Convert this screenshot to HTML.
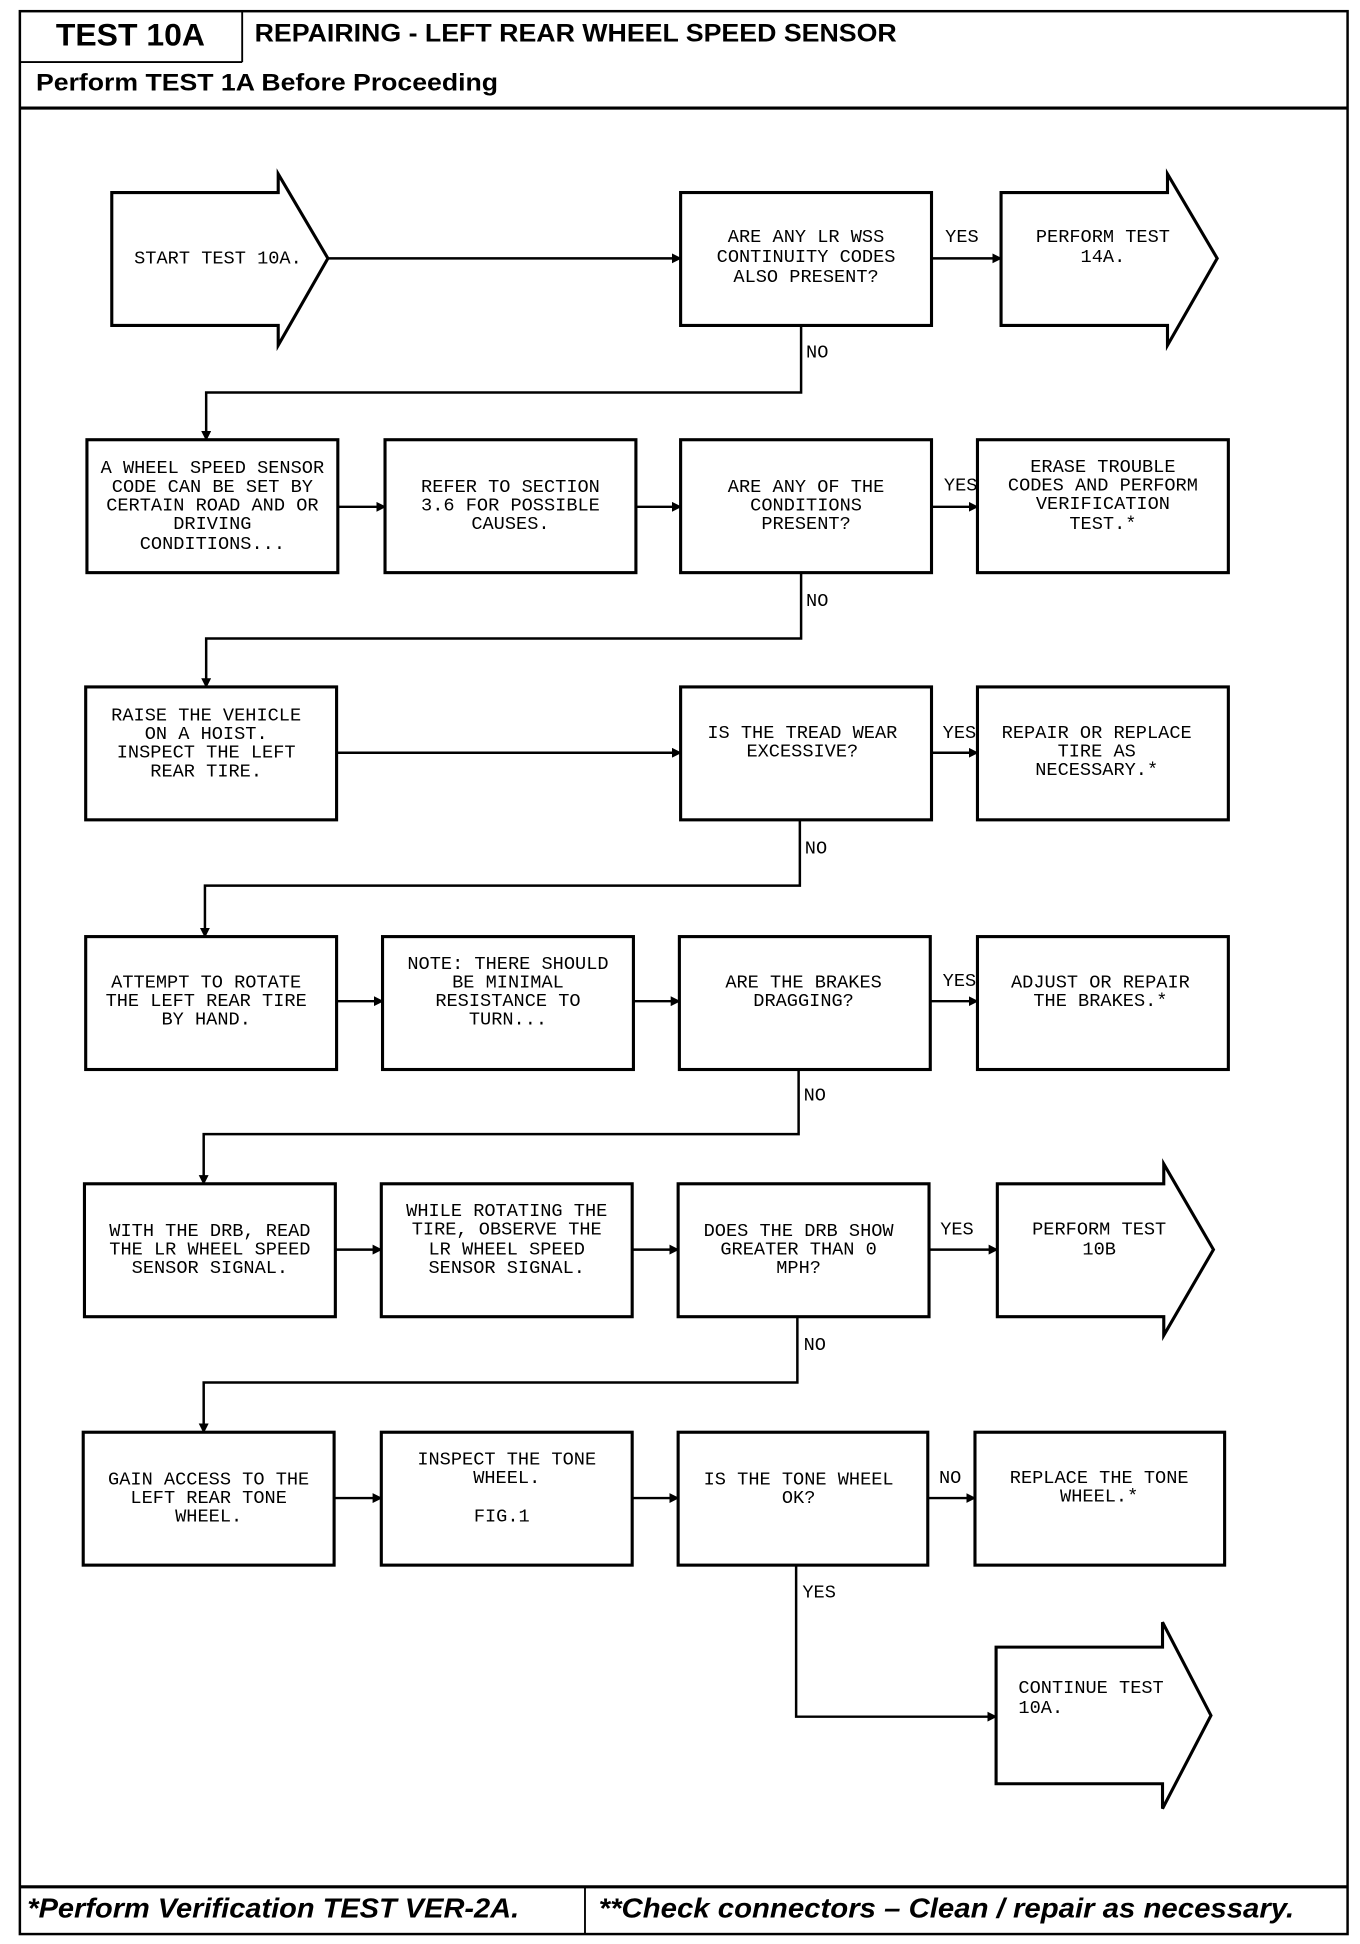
<!DOCTYPE html>
<html><head><meta charset="utf-8"><style>
html,body{margin:0;padding:0;background:#fff;width:1360px;height:1944px;overflow:hidden}
svg{display:block}
.t{font-family:"Liberation Mono",monospace;font-size:15px;fill:#000;text-anchor:middle;dominant-baseline:middle}
.l{font-family:"Liberation Mono",monospace;font-size:15px;fill:#000;dominant-baseline:middle}
.b{fill:#fff;stroke:#000;stroke-width:2.5}
.c{fill:none;stroke:#000;stroke-width:2}
</style></head><body>
<svg width="1360" height="1944" viewBox="0 0 1095 1565" preserveAspectRatio="none" xmlns="http://www.w3.org/2000/svg">
<defs><marker id="a" markerWidth="8" markerHeight="8" refX="7" refY="4" orient="auto" markerUnits="userSpaceOnUse"><path d="M0,0 L8,4 L0,8z" fill="#000"/></marker></defs>
<!-- frame -->
<rect x="16" y="9" width="1069" height="1548" fill="none" stroke="#000" stroke-width="2"/>
<line x1="195" y1="9" x2="195" y2="50" stroke="#000" stroke-width="1.5"/>
<line x1="16" y1="50" x2="195" y2="50" stroke="#000" stroke-width="1.5"/>
<line x1="16" y1="87" x2="1085" y2="87" stroke="#000" stroke-width="2.5"/>
<line x1="16" y1="1519" x2="1085" y2="1519" stroke="#000" stroke-width="2.5"/>
<line x1="471" y1="1519" x2="471" y2="1557" stroke="#000" stroke-width="1.5"/>
<text x="45" y="30" font-family="Liberation Sans,sans-serif" font-weight="bold" font-size="25" dominant-baseline="middle" textLength="120" lengthAdjust="spacingAndGlyphs">TEST 10A</text>
<text x="205" y="28" font-family="Liberation Sans,sans-serif" font-weight="bold" font-size="20" dominant-baseline="middle" textLength="517" lengthAdjust="spacingAndGlyphs">REPAIRING - LEFT REAR WHEEL SPEED SENSOR</text>
<text x="29" y="68" font-family="Liberation Sans,sans-serif" font-weight="bold" font-size="19" dominant-baseline="middle" textLength="372" lengthAdjust="spacingAndGlyphs">Perform TEST 1A Before Proceeding</text>
<text x="22" y="1538" font-family="Liberation Sans,sans-serif" font-weight="bold" font-style="italic" font-size="22" dominant-baseline="middle" textLength="396" lengthAdjust="spacingAndGlyphs">*Perform Verification TEST VER-2A.</text>
<text x="482" y="1538" font-family="Liberation Sans,sans-serif" font-weight="bold" font-style="italic" font-size="22" dominant-baseline="middle" textLength="560" lengthAdjust="spacingAndGlyphs">**Check connectors – Clean / repair as necessary.</text>

<!-- row1 -->
<path class="b" d="M90,155 H224 V140 L264,208 L224,278 V262 H90 Z"/>
<text class="l" x="108" y="208">START TEST 10A.</text>
<line class="c" x1="264" y1="208" x2="548" y2="208" marker-end="url(#a)"/>
<rect class="b" x="548" y="155" width="202" height="107"/>
<text class="t" x="649" y="191">ARE ANY LR WSS</text><text class="t" x="649" y="207">CONTINUITY CODES</text><text class="t" x="649" y="223">ALSO PRESENT?</text>
<line class="c" x1="750" y1="208" x2="806" y2="208" marker-end="url(#a)"/>
<text class="l" x="761" y="191">YES</text>
<path class="b" d="M806,155 H940 V140 L980,208 L940,278 V262 H806 Z"/>
<text class="t" x="888" y="191">PERFORM TEST</text><text class="t" x="888" y="207">14A.</text>
<polyline class="c" points="645,262 645,316 166,316 166,354" marker-end="url(#a)"/>
<text class="l" x="649" y="284">NO</text>

<!-- row2 -->
<rect class="b" x="70" y="354" width="202" height="107"/>
<text class="t" x="171" y="377">A WHEEL SPEED SENSOR</text><text class="t" x="171" y="392">CODE CAN BE SET BY</text><text class="t" x="171" y="407">CERTAIN ROAD AND OR</text><text class="t" x="171" y="422">DRIVING</text><text class="t" x="171" y="438">CONDITIONS...</text>
<line class="c" x1="272" y1="408" x2="310" y2="408" marker-end="url(#a)"/>
<rect class="b" x="310" y="354" width="202" height="107"/>
<text class="t" x="411" y="392">REFER TO SECTION</text><text class="t" x="411" y="407">3.6 FOR POSSIBLE</text><text class="t" x="411" y="422">CAUSES.</text>
<line class="c" x1="512" y1="408" x2="548" y2="408" marker-end="url(#a)"/>
<rect class="b" x="548" y="354" width="202" height="107"/>
<text class="t" x="649" y="392">ARE ANY OF THE</text><text class="t" x="649" y="407">CONDITIONS</text><text class="t" x="649" y="422">PRESENT?</text>
<line class="c" x1="750" y1="408" x2="787" y2="408" marker-end="url(#a)"/>
<text class="l" x="760" y="391">YES</text>
<rect class="b" x="787" y="354" width="202" height="107"/>
<text class="t" x="888" y="376">ERASE TROUBLE</text><text class="t" x="888" y="391">CODES AND PERFORM</text><text class="t" x="888" y="406">VERIFICATION</text><text class="t" x="888" y="422">TEST.*</text>
<polyline class="c" points="645,461 645,514 166,514 166,553" marker-end="url(#a)"/>
<text class="l" x="649" y="484">NO</text>

<!-- row3 -->
<rect class="b" x="69" y="553" width="202" height="107"/>
<text class="t" x="166" y="576">RAISE THE VEHICLE</text><text class="t" x="166" y="591">ON A HOIST.</text><text class="t" x="166" y="606">INSPECT THE LEFT</text><text class="t" x="166" y="621">REAR TIRE.</text>
<line class="c" x1="271" y1="606" x2="548" y2="606" marker-end="url(#a)"/>
<rect class="b" x="548" y="553" width="202" height="107"/>
<text class="t" x="646" y="590">IS THE TREAD WEAR</text><text class="t" x="646" y="605">EXCESSIVE?</text>
<line class="c" x1="750" y1="606" x2="787" y2="606" marker-end="url(#a)"/>
<text class="l" x="759" y="590">YES</text>
<rect class="b" x="787" y="553" width="202" height="107"/>
<text class="t" x="883" y="590">REPAIR OR REPLACE</text><text class="t" x="883" y="605">TIRE AS</text><text class="t" x="883" y="620">NECESSARY.*</text>
<polyline class="c" points="644,660 644,713 165,713 165,754" marker-end="url(#a)"/>
<text class="l" x="648" y="683">NO</text>

<!-- row4 -->
<rect class="b" x="69" y="754" width="202" height="107"/>
<text class="t" x="166" y="791">ATTEMPT TO ROTATE</text><text class="t" x="166" y="806">THE LEFT REAR TIRE</text><text class="t" x="166" y="821">BY HAND.</text>
<line class="c" x1="271" y1="806" x2="308" y2="806" marker-end="url(#a)"/>
<rect class="b" x="308" y="754" width="202" height="107"/>
<text class="t" x="409" y="776">NOTE: THERE SHOULD</text><text class="t" x="409" y="791">BE MINIMAL</text><text class="t" x="409" y="806">RESISTANCE TO</text><text class="t" x="409" y="821">TURN...</text>
<line class="c" x1="510" y1="806" x2="547" y2="806" marker-end="url(#a)"/>
<rect class="b" x="547" y="754" width="202" height="107"/>
<text class="t" x="647" y="791">ARE THE BRAKES</text><text class="t" x="647" y="806">DRAGGING?</text>
<line class="c" x1="749" y1="806" x2="787" y2="806" marker-end="url(#a)"/>
<text class="l" x="759" y="790">YES</text>
<rect class="b" x="787" y="754" width="202" height="107"/>
<text class="t" x="886" y="791">ADJUST OR REPAIR</text><text class="t" x="886" y="806">THE BRAKES.*</text>
<polyline class="c" points="643,861 643,913 164,913 164,953" marker-end="url(#a)"/>
<text class="l" x="647" y="882">NO</text>

<!-- row5 -->
<rect class="b" x="68" y="953" width="202" height="107"/>
<text class="t" x="169" y="991">WITH THE DRB, READ</text><text class="t" x="169" y="1006">THE LR WHEEL SPEED</text><text class="t" x="169" y="1021">SENSOR SIGNAL.</text>
<line class="c" x1="270" y1="1006" x2="307" y2="1006" marker-end="url(#a)"/>
<rect class="b" x="307" y="953" width="202" height="107"/>
<text class="t" x="408" y="975">WHILE ROTATING THE</text><text class="t" x="408" y="990">TIRE, OBSERVE THE</text><text class="t" x="408" y="1006">LR WHEEL SPEED</text><text class="t" x="408" y="1021">SENSOR SIGNAL.</text>
<line class="c" x1="509" y1="1006" x2="546" y2="1006" marker-end="url(#a)"/>
<rect class="b" x="546" y="953" width="202" height="107"/>
<text class="t" x="643" y="991">DOES THE DRB SHOW</text><text class="t" x="643" y="1006">GREATER THAN 0</text><text class="t" x="643" y="1021">MPH?</text>
<line class="c" x1="748" y1="1006" x2="803" y2="1006" marker-end="url(#a)"/>
<text class="l" x="757" y="990">YES</text>
<path class="b" d="M803,953 H937 V937 L977,1006 L937,1075 V1060 H803 Z"/>
<text class="t" x="885" y="990">PERFORM TEST</text><text class="t" x="885" y="1006">10B</text>
<polyline class="c" points="642,1060 642,1113 164,1113 164,1153" marker-end="url(#a)"/>
<text class="l" x="647" y="1083">NO</text>

<!-- row6 -->
<rect class="b" x="67" y="1153" width="202" height="107"/>
<text class="t" x="168" y="1191">GAIN ACCESS TO THE</text><text class="t" x="168" y="1206">LEFT REAR TONE</text><text class="t" x="168" y="1221">WHEEL.</text>
<line class="c" x1="269" y1="1206" x2="307" y2="1206" marker-end="url(#a)"/>
<rect class="b" x="307" y="1153" width="202" height="107"/>
<text class="t" x="408" y="1175">INSPECT THE TONE</text><text class="t" x="408" y="1190">WHEEL.</text><text class="t" x="404" y="1221">FIG.1</text>
<line class="c" x1="509" y1="1206" x2="546" y2="1206" marker-end="url(#a)"/>
<rect class="b" x="546" y="1153" width="201" height="107"/>
<text class="t" x="643" y="1191">IS THE TONE WHEEL</text><text class="t" x="643" y="1206">OK?</text>
<line class="c" x1="747" y1="1206" x2="785" y2="1206" marker-end="url(#a)"/>
<text class="l" x="756" y="1190">NO</text>
<rect class="b" x="785" y="1153" width="201" height="107"/>
<text class="t" x="885" y="1190">REPLACE THE TONE</text><text class="t" x="885" y="1205">WHEEL.*</text>
<polyline class="c" points="641,1260 641,1382 802,1382" marker-end="url(#a)"/>
<text class="l" x="646" y="1282">YES</text>
<path class="b" d="M802,1326 H936 V1306 L975,1381 L936,1456 V1436 H802 Z"/>
<text class="l" x="820" y="1359">CONTINUE TEST</text><text class="l" x="820" y="1375">10A.</text>
</svg>
</body></html>
